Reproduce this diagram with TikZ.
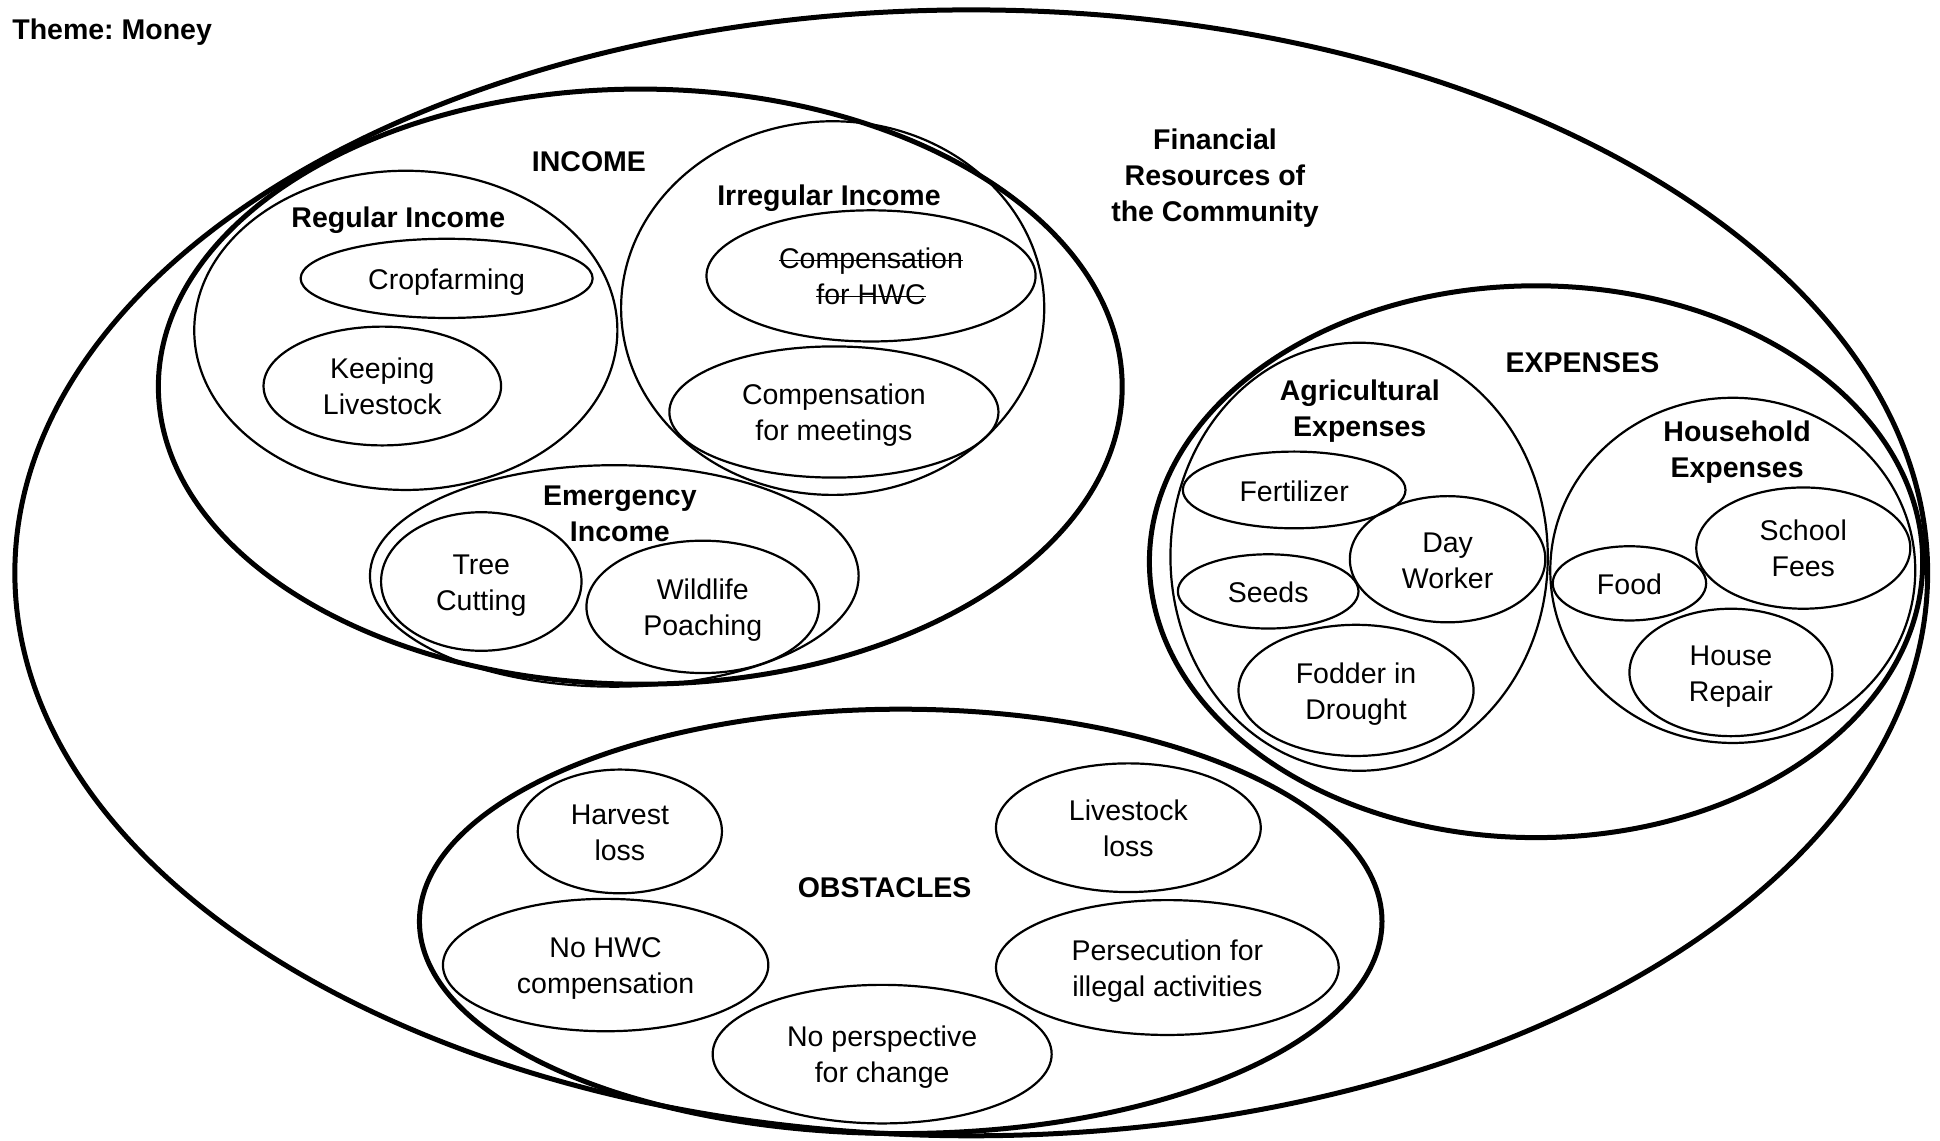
\documentclass[tikz,border=0pt]{standalone}
\usepackage{fontspec}
\setmainfont{Liberation Sans}
\usetikzlibrary{shapes.geometric}
\frenchspacing
% struck-through text
\newsavebox\strkbox
\newcommand\strk[1]{\sbox\strkbox{#1}\rlap{\rule[0.26em]{\wd\strkbox}{1.8pt}}\usebox\strkbox}
% struts giving each text block a fixed ascent and descent
\newcommand\topstrut{\rule[-6pt]{0pt}{34.3pt}}
\newcommand\botstrut{\rule[-6pt]{0pt}{6pt}}
% first-line strut for blocks of several lines
\newcommand\lead{\rule[-6pt]{0pt}{33.7pt}}
\begin{document}
\begin{tikzpicture}[x=1.2372pt,y=-1.2372pt,
  every node/.style={font=\fontsize{28.5}{36}\selectfont, align=center, inner sep=0pt, outer sep=0pt,
    execute at begin node=\topstrut, execute at end node=\botstrut},
  heavy/.style={line width=5pt},
  light/.style={line width=2.2pt},
  oval/.style 2 args={ellipse, draw, minimum width=2.4744*#1pt, minimum height=2.4744*#2pt},
  item/.style 2 args={oval={#1}{#2}, light},
  group/.style 2 args={oval={#1}{#2}},
  lbl/.style={font=\fontsize{28.5}{36}\selectfont\bfseries}]
\useasboundingbox (0,0) rectangle (1568,922);

% title
\node[lbl, anchor=west] (title) at (10,23) {Theme: Money};

% whole community
\node[group={773}{455}, heavy] (community) at (785,463) {};
\node[lbl] (communitylbl) at (982,141) {\lead Financial\\Resources of\\the Community};

% income
\node[group={389.5}{240.5}, heavy] (income) at (517.5,312.5) {};
\node[lbl] (incomelbl) at (476,130) {INCOME};

\node[group={171}{129}, light] (regular) at (328,267) {};
\node[lbl] (regularlbl) at (322,175) {Regular Income};
\node[item={118}{32}] (crop) at (361,225) {Cropfarming};
\node[item={96}{48}] (keep) at (309,312) {\lead Keeping\\Livestock};

\node[group={171}{151}, light] (irregular) at (673,249) {};
\node[lbl] (irregularlbl) at (670,157) {Irregular Income};
\node[item={133}{53}] (hwc) at (704,223) {\lead\strk{Compensation}\\\strk{for HWC}};
\node[item={133}{53}] (meet) at (674,333) {\lead Compensation\\for meetings};

\node[group={197.5}{89.5}, light] (emergency) at (496.5,465.5) {};
\node[lbl] (emergencylbl) at (501,414.5) {\lead Emergency\\Income};
\node[item={81}{56}] (tree) at (389,470) {\lead Tree\\Cutting};
\node[item={94}{53.5}] (wild) at (568,490.5) {\lead Wildlife\\Poaching};

% expenses
\node[group={312.5}{223}, heavy] (expenses) at (1241.5,454) {};
\node[lbl] (expenseslbl) at (1279,292) {EXPENSES};

\node[group={152.5}{173}, light] (agri) at (1098.5,450) {};
\node[lbl] (agrilbl) at (1099,329.5) {\lead Agricultural\\Expenses};
\node[item={90}{31}] (fert) at (1046,396) {Fertilizer};
\node[item={79}{51}] (day) at (1170,452) {\lead Day\\Worker};
\node[item={73}{30}] (seeds) at (1025,478) {Seeds};
\node[item={95}{53}] (fodder) at (1096,558) {\lead Fodder in\\Drought};

\node[group={147.5}{139.5}, light] (house) at (1400.5,461) {};
\node[lbl] (houselbl) at (1404,362.5) {\lead Household\\Expenses};
\node[item={62}{30}] (food) at (1317,471.5) {Food};
\node[item={86.5}{49}] (school) at (1457.5,443) {\lead School\\Fees};
\node[item={82}{51.5}] (repair) at (1399,543.5) {\lead House\\Repair};

% obstacles
\node[group={389}{171.5}, heavy] (obstacles) at (728,744.7) {};
\node[lbl] (obstacleslbl) at (715,716) {OBSTACLES};
\node[item={82.5}{50}] (harvest) at (501,672) {\lead Harvest\\loss};
\node[item={107}{52}] (stockloss) at (912,669) {\lead Livestock\\loss};
\node[item={131.5}{53.5}] (nohwc) at (489.5,780) {\lead No HWC\\compensation};
\node[item={138.5}{54.5}] (persec) at (943.5,782) {\lead Persecution for\\illegal activities};
\node[item={137}{56}] (nopersp) at (713,852) {\lead No perspective\\for change};
\end{tikzpicture}
\end{document}
